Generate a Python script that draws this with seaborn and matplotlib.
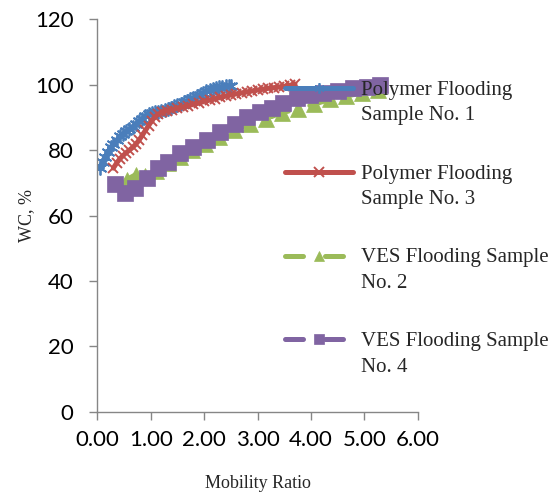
import numpy as np
import matplotlib
matplotlib.use("Agg")
import matplotlib.pyplot as plt
import seaborn as sns
from matplotlib.offsetbox import DrawingArea
from matplotlib.lines import Line2D
from matplotlib.font_manager import FontProperties

# ---------------- data ----------------
poly1_x = [0.05, 0.10, 0.15, 0.20, 0.25, 0.30, 0.36, 0.42, 0.48, 0.54, 0.60, 0.66,
           0.72, 0.78, 0.84, 0.90, 0.96, 1.02, 1.08, 1.14, 1.20, 1.26, 1.32, 1.38,
           1.44, 1.50, 1.56, 1.62, 1.68, 1.74, 1.80, 1.86, 1.92, 1.98, 2.04, 2.10,
           2.16, 2.22, 2.28, 2.34, 2.40, 2.46, 2.50]
poly1_y = [74.5, 76.5, 78.0, 79.5, 80.8, 82.0, 83.0, 84.2, 85.0, 85.8, 86.4, 87.2,
           88.0, 88.8, 89.6, 90.4, 91.0, 91.4, 91.6, 91.8, 92.0, 92.3, 92.6, 93.0,
           93.4, 93.8, 94.2, 94.6, 95.0, 95.5, 96.0, 96.5, 97.0, 97.5, 98.0, 98.3,
           98.7, 99.0, 99.2, 99.4, 99.5, 99.6, 99.7]

poly3_x = [0.30, 0.36, 0.42, 0.48, 0.54, 0.60, 0.66, 0.72, 0.78, 0.84, 0.90, 0.96,
           1.02, 1.08, 1.14, 1.22, 1.30, 1.40, 1.50, 1.60, 1.70, 1.80, 1.90, 2.00,
           2.10, 2.20, 2.30, 2.40, 2.50, 2.60, 2.70, 2.80, 2.90, 3.00, 3.10, 3.20,
           3.30, 3.40, 3.50, 3.60, 3.70]
poly3_y = [74.5, 76.0, 77.3, 78.3, 79.2, 80.0, 80.8, 81.8, 83.0, 84.5, 86.0, 87.5,
           89.0, 90.2, 91.0, 91.6, 92.0, 92.4, 92.8, 93.2, 93.6, 94.0, 94.4, 94.9,
           95.3, 95.7, 96.1, 96.5, 96.9, 97.2, 97.5, 97.8, 98.1, 98.4, 98.6, 98.9,
           99.1, 99.3, 99.5, 99.8, 100.2]

ves2_x = [0.55, 0.72, 0.90, 1.10, 1.32, 1.55, 1.78, 2.02, 2.28, 2.55, 2.85, 3.15,
          3.45, 3.75, 4.05, 4.35, 4.65, 4.95, 5.25]
ves2_y = [71.0, 72.5, 72.0, 73.5, 76.0, 78.0, 80.0, 82.0, 84.0, 86.0, 88.0, 89.5,
          91.5, 92.5, 94.0, 95.5, 96.5, 97.5, 98.5]

ves4_x = [0.33, 0.52, 0.71, 0.93, 1.14, 1.32, 1.55, 1.79, 2.05, 2.30, 2.58, 2.80,
          3.05, 3.27, 3.48, 3.74, 3.98, 4.23, 4.51, 4.79, 5.05, 5.30]
ves4_y = [69.5, 67.0, 68.5, 71.5, 74.5, 76.5, 79.0, 81.0, 83.0, 85.5, 88.0, 90.0,
          91.6, 93.0, 94.4, 95.8, 96.8, 97.5, 98.1, 98.9, 99.4, 99.8]

labels = ["Polymer Flooding\nSample No. 1", "Polymer Flooding\nSample No. 3",
          "VES Flooding Sample\nNo. 2", "VES Flooding Sample\nNo. 4"]
x_ticks = [0, 1, 2, 3, 4, 5, 6]
y_ticks = [0, 20, 40, 60, 80, 100, 120]

# ---------------- style ----------------
sns.set_style("ticks")
plt.rcParams['font.family'] = ['Lato', 'DejaVu Sans']

fig = plt.figure(figsize=(5.58, 4.98), dpi=100)
ax = fig.add_axes([0.1744, 0.1733, 0.5745, 0.7879])

series = [
    (poly1_x, poly1_y, "#4A7EBB", (6, 2, 0), 10, 1.3, "-"),
    (poly3_x, poly3_y, "#C0504D", "x", 7.5, 1.4, "-"),
    (ves2_x, ves2_y, "#9BBB59", "^", 11, 0.5, (0, (3.6, 4.4))),
    (ves4_x, ves4_y, "#8064A2", "s", 11, 0.5, (0, (3.6, 4.4))),
]

for (xs, ys, col, mk, ms, mew, ls), lab in zip(series, labels):
    sns.lineplot(x=xs, y=ys, ax=ax, sort=False, estimator=None, color=col,
                 linewidth=3.6, linestyle=ls, marker=mk, markersize=ms,
                 markeredgewidth=mew, markeredgecolor=col, markerfacecolor=col,
                 solid_capstyle="round", dash_capstyle="round", label=lab)

ax.set_xlim(0, 6)
ax.set_ylim(0, 120)
ax.set_xticks(x_ticks)
ax.set_xticklabels([f"{v:.2f}" for v in x_ticks])
ax.set_yticks(y_ticks)
ax.set_yticklabels([str(v) for v in y_ticks])

for side in ["top", "right"]:
    ax.spines[side].set_visible(False)
for side in ["left", "bottom"]:
    ax.spines[side].set_color("#868686")
    ax.spines[side].set_linewidth(1.0)
ax.tick_params(axis="both", direction="out", length=6, width=1.0, color="#868686",
               labelsize=16, labelcolor="black")
ax.tick_params(axis="y", pad=11)
ax.tick_params(axis="x", pad=7)

serif = "Liberation Serif"
ax.set_xlabel("Mobility Ratio", fontfamily=serif, fontsize=13, labelpad=18)
ax.set_ylabel("WC, %", fontfamily=serif, fontsize=13, labelpad=0)

fs = 15
ls_mult = 1.45
handles, labs = ax.get_legend_handles_labels()
leg = ax.legend(handles, labs, loc="upper left", bbox_to_anchor=(0.51, 0.838),
                bbox_transform=fig.transFigure, frameon=False,
                prop=FontProperties(family=serif, size=fs),
                handlelength=3.3, handletextpad=0.35, labelspacing=1.9,
                borderpad=0, borderaxespad=0)
for t in leg.get_texts():
    t.set_linespacing(ls_mult)
dy = (0.217 + 0.683 * ls_mult) * fs - 7.5
for da in leg.findobj(DrawingArea):
    for art in da.get_children():
        if isinstance(art, Line2D):
            art.set_ydata(np.asarray(art.get_ydata(), dtype=float) + dy)
            if art.get_marker() not in (None, "None", "", " "):
                art.set_markersize(7.5)

fig.savefig("out.png", dpi=100)
